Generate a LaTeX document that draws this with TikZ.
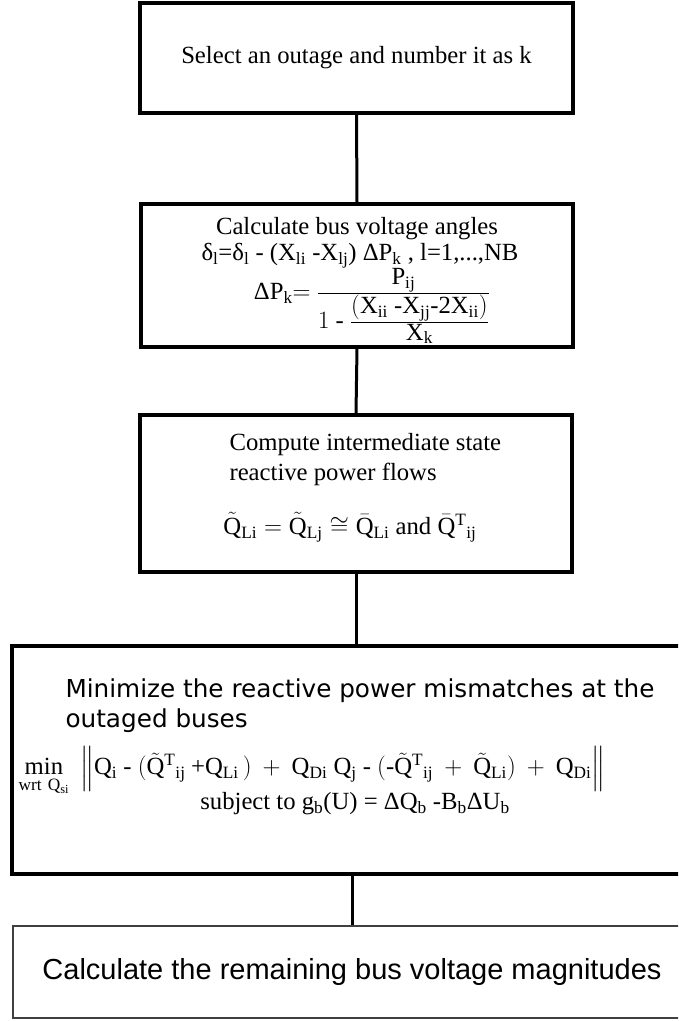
\documentclass[tikz,border=0pt]{standalone}
\usepackage{amsmath}
\usepackage{fontspec}
\setmainfont{Liberation Serif}
\newfontfamily\dejavu{DejaVu Sans}
\newfontfamily\arialish{Liberation Sans}
\usetikzlibrary{positioning}
\newcommand{\rmQ}{\mathrm{Q}}
\newcommand{\dlt}{\text{Δ}}
\newcommand{\hy}{\text{-}}

\begin{document}
\begin{tikzpicture}[x=1pt, y=-1pt, font=\fontsize{24.7}{30}\selectfont,
  stepbox/.style={draw, line width=3.5pt, inner sep=0pt},
  flowline/.style={draw, line width=3pt}]
\useasboundingbox (0,0) rectangle (678,1021);
\clip (0,0) rectangle (678,1021);

\node[stepbox, minimum width=433pt, minimum height=110pt] (select) at (356.5,58)
  {Select an outage and number it as k};

\node[stepbox, minimum width=432pt, minimum height=143pt] (angles) at (357,275.5) {};
\node (anglestitle) at (357,229) {Calculate bus voltage angles};
\node (anglesupd) at (360,256)
  {δ$_{\mathrm{l}}$=δ$_{\mathrm{l}}$ - (X$_{\mathrm{li}}$ -X$_{\mathrm{lj}}$) ΔP$_{\mathrm{k}}$ , l=1,...,NB};
\node (anglesdp) at (372,306)
  {$\dlt\mathrm{P_k}{=}\ \frac{\textstyle\mathrm{P_{ij}}}{\textstyle 1\ \hy\ \frac{\textstyle(\mathrm{X_{ii}}\ \hy\mathrm{X_{jj}}\hy\mathrm{2X_{ii}})}{\textstyle\mathrm{X_k}}}$};

\node[stepbox, minimum width=432pt, minimum height=157pt] (flows) at (356,493.5) {};
\node[align=left, anchor=west] (flowstitle) at (226,460)
  {Compute intermediate state\\reactive power flows};
\node (flowseq) at (350,527)
  {$\tilde{\rmQ}_{\mathrm{Li}} = \tilde{\rmQ}_{\mathrm{Lj}} \cong \bar{\rmQ}_{\mathrm{Li}}$ and $\bar{\rmQ}^{\mathrm{T}}{}_{\mathrm{ij}}$};

\node[stepbox, minimum width=680pt, minimum height=228pt] (mismatch) at (352,760) {};
\node[align=left, anchor=west, font=\dejavu\fontsize{24.7}{30}\selectfont] (mismatchtitle) at (62,706)
  {Minimize the reactive power mismatches at the\\outaged buses};
\node (mismatchmin) at (312,771)
  {$\mathop{\mathrm{min}}\limits_{\mathrm{wrt\ Q_{si}}}\;
   \Big\|\rmQ_{\mathrm{i}}\ \hy\ (\tilde{\rmQ}^{\mathrm{T}}{}_{\mathrm{ij}}\:\text{+}\rmQ_{\mathrm{Li}}\,)\:+\:\rmQ_{\mathrm{Di}}\ \rmQ_{\mathrm{j}}\ \hy\ (\hy\tilde{\rmQ}^{\mathrm{T}}{}_{\mathrm{ij}}\:+\:\tilde{\rmQ}_{\mathrm{Li}})\:+\:\rmQ_{\mathrm{Di}}\Big\|$};
\node (mismatchsubj) at (355,804)
  {subject to g$_{\mathrm{b}}$(U) = ΔQ$_{\mathrm{b}}$ -B$_{\mathrm{b}}$ΔU$_{\mathrm{b}}$};

\node[draw=black!75, line width=1.6pt, minimum width=678pt, minimum height=92pt,
  font=\arialish\fontsize{29}{34}\selectfont] (remaining) at (352,972)
  {Calculate the remaining bus voltage magnitudes};

\draw[flowline] (select.south) -- (angles.north);
\draw[flowline] (angles.south) -- (flows.north);
\draw[flowline] (flows.south) -- (flows.south |- mismatch.north);
\draw[flowline] (mismatch.south) -- (remaining.north);
\end{tikzpicture}
\end{document}
